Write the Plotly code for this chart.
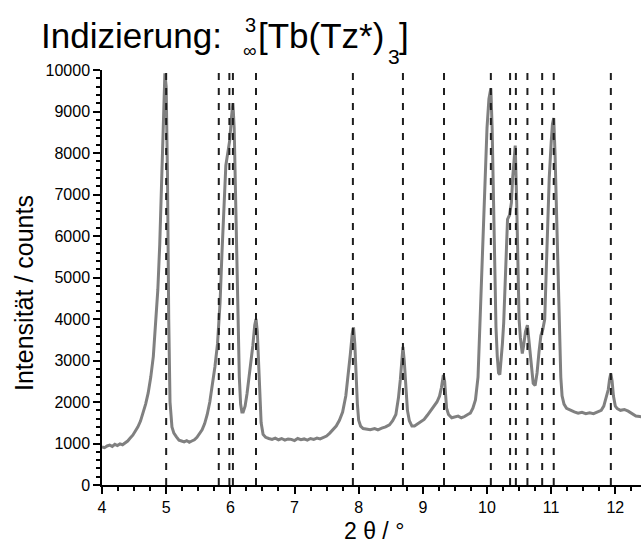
import plotly.graph_objects as go

# ---- data ----
two_theta = [
    4.00, 4.04, 4.08, 4.12, 4.16, 4.20, 4.24, 4.28, 4.32, 4.36, 4.40, 4.44, 4.48, 4.52, 4.56,
    4.60, 4.64, 4.68, 4.72, 4.76, 4.80, 4.84, 4.87, 4.90, 4.92, 4.95, 4.98, 5.00, 5.02, 5.04,
    5.06, 5.09, 5.12, 5.16, 5.20, 5.24, 5.28, 5.32, 5.36, 5.40, 5.44, 5.48, 5.52, 5.56, 5.60,
    5.64, 5.68, 5.72, 5.76, 5.80, 5.84, 5.87, 5.90, 5.93, 5.96, 5.99, 6.02, 6.04, 6.06, 6.08,
    6.10, 6.12, 6.14, 6.16, 6.18, 6.20, 6.23, 6.26, 6.29, 6.32, 6.35, 6.38, 6.40, 6.42, 6.44,
    6.46, 6.48, 6.51, 6.55, 6.60, 6.65, 6.70, 6.75, 6.80, 6.85, 6.90, 6.95, 7.00, 7.05, 7.10,
    7.15, 7.20, 7.25, 7.30, 7.35, 7.40, 7.45, 7.50, 7.55, 7.60, 7.65, 7.70, 7.75, 7.80, 7.84,
    7.87, 7.90, 7.92, 7.94, 7.96, 7.98, 8.00, 8.03, 8.07, 8.12, 8.18, 8.25, 8.30, 8.36, 8.42,
    8.48, 8.53, 8.58, 8.62, 8.65, 8.68, 8.69, 8.71, 8.73, 8.76, 8.79, 8.83, 8.87, 8.92, 8.97,
    9.02, 9.07, 9.12, 9.17, 9.22, 9.26, 9.29, 9.32, 9.34, 9.37, 9.40, 9.45, 9.50, 9.55, 9.60,
    9.65, 9.70, 9.74, 9.78, 9.82, 9.86, 9.89, 9.92, 9.95, 9.98, 10.00, 10.03, 10.06, 10.08, 10.10,
    10.12, 10.14, 10.16, 10.18, 10.20, 10.22, 10.24, 10.26, 10.28, 10.30, 10.32, 10.35, 10.38, 10.40, 10.42,
    10.44, 10.46, 10.48, 10.50, 10.52, 10.55, 10.57, 10.60, 10.63, 10.66, 10.69, 10.72, 10.75, 10.78, 10.81,
    10.84, 10.87, 10.90, 10.92, 10.94, 10.97, 11.00, 11.02, 11.04, 11.06, 11.09, 11.11, 11.13, 11.15, 11.17,
    11.20, 11.24, 11.30, 11.36, 11.42, 11.48, 11.54, 11.60, 11.66, 11.72, 11.78, 11.82, 11.86, 11.89, 11.91,
    11.93, 11.95, 11.97, 12.00, 12.03, 12.08, 12.14, 12.20, 12.26, 12.32, 12.38, 12.42,
]
intensity = [
    920, 900, 940, 960, 930, 980, 950, 990, 970, 1010, 1060, 1130, 1200, 1300, 1400,
    1540, 1730, 1950, 2220, 2600, 3100, 3900, 4700, 5800, 7000, 8500, 9920, 9600, 7500, 4000,
    2000, 1400, 1250, 1160, 1080, 1060, 1040, 1070, 1030, 1060, 1090, 1150, 1230, 1330, 1480,
    1700, 2000, 2400, 2850, 3400, 4400, 5600, 6800, 7700, 8000, 8300, 8900, 9200, 8600, 7000,
    5200, 3600, 2600, 1950, 1760, 1760, 1900, 2200, 2550, 2950, 3350, 3850, 4000, 3700, 3000,
    2100, 1500, 1220, 1150, 1120, 1100, 1130, 1090, 1120, 1080, 1110, 1100, 1070, 1120, 1090,
    1110, 1080, 1120, 1100, 1130, 1110, 1150, 1180, 1250, 1330, 1420, 1560, 1760, 2150, 2650,
    3150, 3650, 3800, 3400, 2600, 1950, 1560, 1420, 1360, 1340, 1330, 1360, 1330, 1370, 1400,
    1450, 1550, 1700, 2100, 2550, 3200, 3330, 3000, 2450, 1800, 1550, 1420, 1420, 1480, 1530,
    1580, 1680, 1780, 1880, 2000, 2140, 2350, 2650, 2500, 1850, 1700, 1620, 1640, 1660, 1620,
    1650, 1700, 1730, 1850, 2050, 2600, 3800, 5200, 6600, 7800, 8600, 9300, 9560, 8600, 7000,
    5300, 3800, 3100, 2700, 2660, 3000, 3400, 3900, 4900, 5800, 6400, 6500, 6800, 7400, 7900,
    8180, 7000, 5000, 4000, 3550, 3170, 3350, 3700, 3850, 3350, 2850, 2450, 2400, 2700, 3200,
    3600, 3750, 4000, 5000, 6200, 7400, 8250, 8700, 8840, 8000, 6200, 4800, 3400, 2600, 2150,
    1950, 1850, 1800, 1760, 1730, 1750, 1720, 1740, 1720, 1760, 1800, 1900, 2100, 2300, 2550,
    2690, 2500, 2150, 1900, 1840, 1800, 1820, 1780, 1720, 1660, 1650, 1640,
]
reflex_positions = [5.00, 5.82, 5.985, 6.04, 6.40, 7.91, 8.69, 9.33, 10.06,
                    10.36, 10.45, 10.63, 10.86, 11.04, 11.93]
x_range = [4, 12.4]
y_range = [0, 10000]

# ---- layout geometry (pixels) ----
W, H = 641, 544
L, R, T, B = 102, 0, 70, 59
PW, PH = W - L - R, H - T - B


def px(xp):
    return (xp - L) / PW


def py(yp):
    return (H - B - yp) / PH


FONT = "Liberation Sans, Arial, sans-serif"

fig = go.Figure()
fig.add_trace(go.Scatter(x=two_theta, y=intensity, mode="lines",
                         line=dict(color="#808080", width=3), showlegend=False,
                         hoverinfo="skip"))

for xv in reflex_positions:
    fig.add_shape(type="line", xref="x", yref="y", x0=xv, x1=xv,
                  y0=y_range[0], y1=y_range[1],
                  line=dict(color="#1e1e1e", width=2, dash="7px,8px"), layer="above")

axis_common = dict(showline=True, linecolor="black", linewidth=1.5, showgrid=False,
                   zeroline=False, ticks="outside", tickcolor="black", tickwidth=1.5,
                   ticklen=7, tickformat="d",
                   tickfont=dict(family=FONT, size=16, color="black"))

fig.update_xaxes(range=x_range, dtick=1, tick0=4,
                 minor=dict(dtick=0.25, ticks="outside", ticklen=4, tickcolor="black",
                            tickwidth=1.5),
                 **axis_common)
fig.update_yaxes(range=y_range, dtick=1000, tick0=0,
                 minor=dict(dtick=200, ticks="outside", ticklen=4, tickcolor="black",
                            tickwidth=1.5),
                 **axis_common)

ann = []
# title pieces
ann.append(dict(text="Indizierung:", x=px(39), y=py(35), xanchor="left", yanchor="middle",
                font=dict(family=FONT, size=35, color="black")))
ann.append(dict(text="3", x=px(243), y=py(25), xanchor="left", yanchor="middle",
                font=dict(family=FONT, size=20, color="black")))
ann.append(dict(text="∞", x=px(241), y=py(51), xanchor="left", yanchor="middle",
                font=dict(family=FONT, size=19, color="black")))
ann.append(dict(text="[Tb(Tz*)", x=px(256), y=py(35), xanchor="left", yanchor="middle",
                font=dict(family=FONT, size=35, color="black")))
ann.append(dict(text="3", x=px(386), y=py(57), xanchor="left", yanchor="middle",
                font=dict(family=FONT, size=21, color="black")))
ann.append(dict(text="]", x=px(397), y=py(35), xanchor="left", yanchor="middle",
                font=dict(family=FONT, size=35, color="black")))
# axis titles
ann.append(dict(text="Intensität / counts", x=px(24), y=py(293), xanchor="center",
                yanchor="middle", textangle=-90,
                font=dict(family=FONT, size=25, color="black")))
ann.append(dict(text="2 θ / °", x=px(374), y=py(531), xanchor="center", yanchor="middle",
                font=dict(family=FONT, size=23, color="black")))
for a in ann:
    a.update(xref="paper", yref="paper", showarrow=False)

fig.update_layout(width=W, height=H, margin=dict(l=L, r=R, t=T, b=B),
                  paper_bgcolor="white", plot_bgcolor="white", annotations=ann,
                  showlegend=False)

fig.write_html("out.html")
